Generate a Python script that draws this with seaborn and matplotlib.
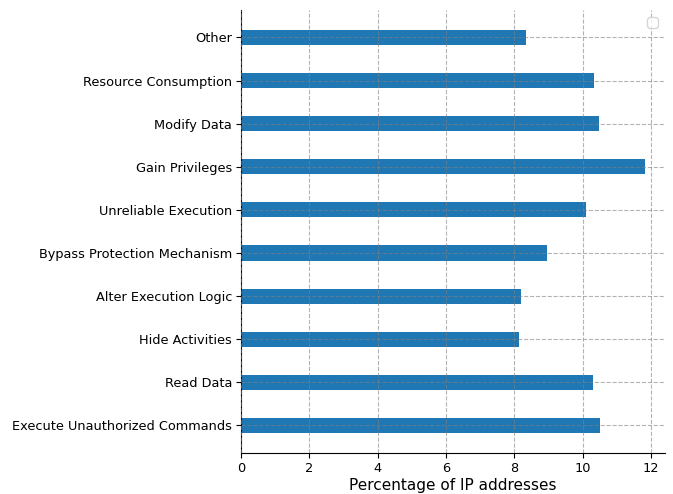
import pandas as pd
import matplotlib
matplotlib.use('Agg')
import matplotlib.pyplot as plt
import seaborn as sb

# categories from top to bottom
categories = ['Other', 'Resource Consumption', 'Modify Data', 'Gain Privileges',
              'Unreliable Execution', 'Bypass Protection Mechanism',
              'Alter Execution Logic', 'Hide Activities', 'Read Data',
              'Execute Unauthorized Commands']
percentages = [8.35, 10.33, 10.48, 11.82, 10.10, 8.96, 8.20, 8.14, 10.30, 10.50]

df = pd.DataFrame({'category': categories, 'pct': percentages})

fig = plt.figure(figsize=(6.73, 4.94), dpi=100)
ax = fig.add_axes([0.358, 0.083, 0.63, 0.897])

sb.barplot(data=df, x='pct', y='category', order=categories, orient='h',
           color='#1f77b4', saturation=1, width=0.35, ax=ax)

ax.set_ylim(9.64, -0.64)
ax.set_xlim(0, 12.41)
ax.set_xlabel('Percentage of IP addresses', fontsize=11, labelpad=2)
ax.set_ylabel('')
ax.tick_params(labelsize=9.3, pad=3)
ax.grid(True, linestyle='--', color='gray', alpha=0.6, linewidth=0.8)
ax.set_axisbelow(False)
ax.spines['top'].set_visible(False)
ax.spines['right'].set_visible(False)
ax.legend(handles=[], loc='upper right')

plt.savefig('out.png')
